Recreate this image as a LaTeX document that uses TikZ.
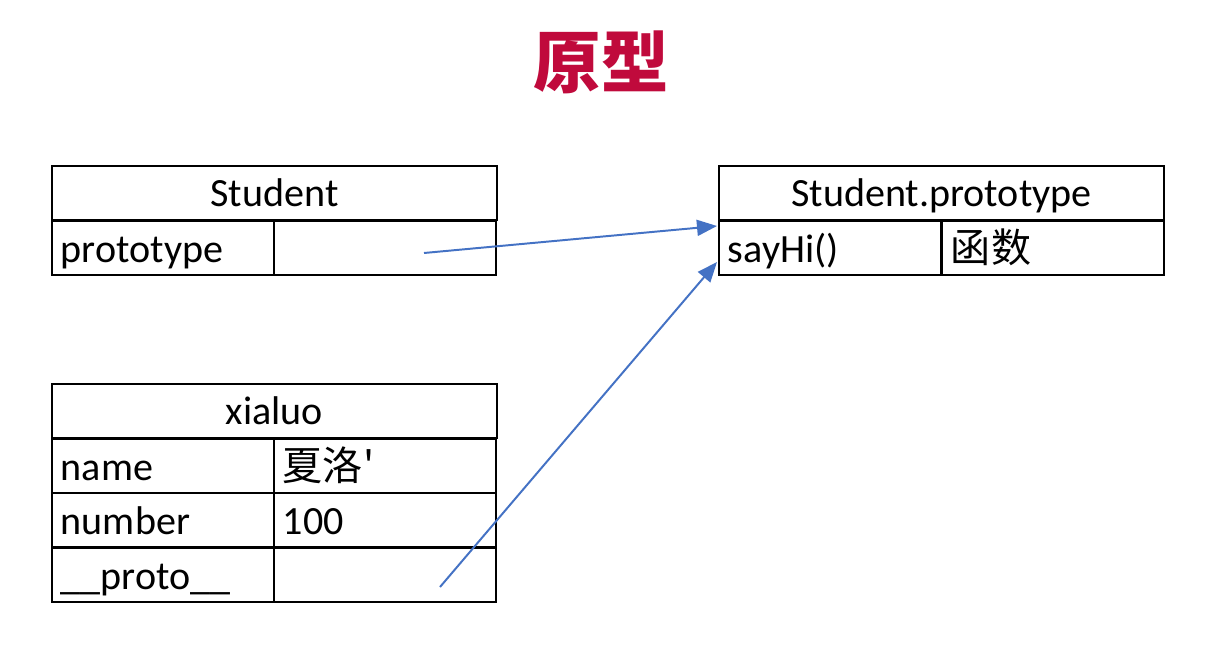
\documentclass[tikz,border=0pt]{standalone}
\usepackage{fontspec}
\setmainfont{Carlito}
\newfontfamily\cjk{Noto Sans CJK SC}
\usetikzlibrary{arrows.meta}
\definecolor{titlered}{HTML}{C00A3C}
\definecolor{linkblue}{HTML}{4472C4}
\begin{document}
\begin{tikzpicture}[x=0.025cm, y=-0.025cm,
  head/.style={draw, line width=1.3pt, anchor=north west, inner ysep=0pt, minimum width=11.125cm, minimum height=1.36cm, text height=27pt, text depth=8pt, font=\fontsize{28.5}{34}\selectfont},
  cell/.style={draw, line width=1.3pt, anchor=north west, inner ysep=0pt, inner xsep=0.225cm, text width=5.1cm, align=left, minimum height=1.36cm, text height=28pt, text depth=7pt, font=\fontsize{28.5}{34}\selectfont},
  link/.style={draw=linkblue, line width=1.4pt, -{Triangle[length=0.5cm, width=0.4cm]}}]
\useasboundingbox (0,0) rectangle (1206,664);
\node[font=\cjk\bfseries\fontsize{48}{52}\selectfont, text=titlered] (title) at (601,62) {原型};
% Student
\node[head] (student) at (51,165) {Student};
\node[cell] (sproto) at (51,220) {prototype};
\node[cell] (sprotoval) at (273,220) {};
% Student.prototype
\node[head] (stuproto) at (718,165) {Student.prototype};
\node[cell] (sayhi) at (718,220) {sayHi()};
\node[cell] (sayhival) at (941,220) {\cjk 函数};
% xialuo
\node[head] (xialuo) at (51,383) {xialuo};
\node[cell] (xname) at (51,438) {name};
\node[cell] (xnameval) at (273,438) {\cjk 夏洛\textquotesingle};
\node[cell] (xnum) at (51,492) {number};
\node[cell] (xnumval) at (273,492) {100};
\node[cell] (xproto) at (51,547) {\_\_proto\_\_};
\node[cell] (xprotoval) at (273,547) {};
% links
\coordinate (sfrom) at (424,253);
\coordinate (xfrom) at (440,587);
\coordinate (sto) at (717,226);
\coordinate (xto) at (717,262);
\draw[link] (sfrom) -- (sto);
\draw[link] (xfrom) -- (xto);
\end{tikzpicture}
\end{document}
